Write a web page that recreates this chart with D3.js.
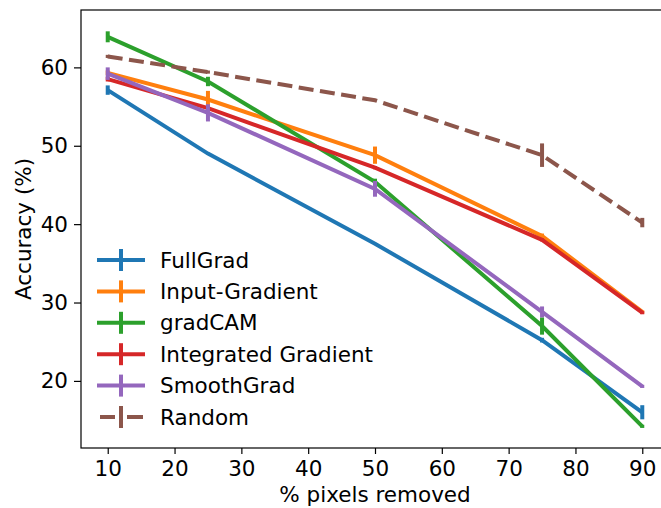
<!DOCTYPE html>
<html>
<head>
<meta charset="utf-8">
<script src="https://cdn.jsdelivr.net/npm/d3@7"></script>
<style>
  body { margin: 0; background: #fff; }
  text { font-family: "DejaVu Sans", sans-serif; fill: #000; }
</style>
</head>
<body>
<div id="chart"></div>
<script>
(function(){

// data
var pixelsRemoved = [10, 25, 50, 75, 90];
var methods = ["FullGrad", "Input-Gradient", "gradCAM", "Integrated Gradient", "SmoothGrad", "Random"];
var colors = ["#1f77b4", "#ff7f0e", "#2ca02c", "#d62728", "#9467bd", "#8c564b"];

var fullGrad       = [57.1, 49.0, 37.5, 25.2, 16.0];
var inputGradient  = [59.3, 55.9, 48.8, 38.5, 28.8];
var gradCAM        = [63.9, 58.2, 45.4, 27.0, 14.2];
var integratedGrad = [58.5, 54.8, 47.2, 38.0, 28.7];
var smoothGrad     = [59.2, 54.2, 44.5, 28.8, 19.3];
var randomBase     = [61.4, 59.4, 55.8, 48.8, 40.2];

var fullGradErr       = [0.6, 0.1, 0.1, 0.3, 0.9];
var inputGradientErr  = [0.3, 1.1, 1.1, 0.3, 0.2];
var gradCAMErr        = [0.7, 0.6, 0.4, 1.1, 0.2];
var integratedGradErr = [0.3, 0.3, 0.2, 0.2, 0.2];
var smoothGradErr     = [0.8, 1.1, 1.0, 0.7, 0.2];
var randomErr         = [0.2, 0.2, 0.1, 1.5, 0.6];

var xTicks = [10, 20, 30, 40, 50, 60, 70, 80, 90];
var yTicks = [20, 30, 40, 50, 60];

var values = [fullGrad, inputGradient, gradCAM, integratedGrad, smoothGrad, randomBase];
var errors = [fullGradErr, inputGradientErr, gradCAMErr, integratedGradErr, smoothGradErr, randomErr];

var series = methods.map(function(m, i) {
  return {
    name: m,
    color: colors[i],
    dashed: m == "Random",
    points: pixelsRemoved.map(function(p, j) {
      return {x: p, y: values[i][j], e: errors[i][j]};
    })
  };
});

var W = 661, H = 508;
var margin = {top: 10, right: -8, bottom: 60, left: 81},
    width = W - margin.left - margin.right,
    height = H - margin.top - margin.bottom;
var fs = "21.5px";

var svg = d3.select("#chart")
  .append("svg")
    .attr("width", W)
    .attr("height", H)
  .append("g")
    .attr("transform", "translate(" + margin.left + "," + margin.top + ")");

var x = d3.scaleLinear().domain([6, 94]).range([0, width]);
var y = d3.scaleLinear().domain([11.44, 67.32]).range([height, 0]);

// spines
svg.append("rect")
  .attr("x", 0).attr("y", 0)
  .attr("width", width).attr("height", height)
  .attr("fill", "none")
  .attr("stroke", "#000")
  .attr("stroke-width", 1.2);

var xAxis = svg.append("g")
  .attr("transform", "translate(0," + height + ")")
  .call(d3.axisBottom(x).tickValues(xTicks).tickSize(6).tickPadding(7));
var yAxis = svg.append("g")
  .call(d3.axisLeft(y).tickValues(yTicks).tickSize(7).tickPadding(6));

[xAxis, yAxis].forEach(function(a) {
  a.select(".domain").remove();
  a.selectAll(".tick line").attr("stroke", "#000").attr("stroke-width", 1.2);
  a.selectAll(".tick text").attr("font-size", fs).attr("font-family", "DejaVu Sans");
});

svg.append("text")
  .attr("x", x(50)).attr("y", height + 54)
  .attr("text-anchor", "middle")
  .attr("font-size", fs)
  .text("% pixels removed");

svg.append("text")
  .attr("transform", "translate(-50," + (height / 2) + ") rotate(-90)")
  .attr("text-anchor", "middle")
  .attr("font-size", fs)
  .text("Accuracy (%)");

var plot = svg.append("g");

var line = d3.line()
  .x(function(d) { return x(d.x); })
  .y(function(d) { return y(d.y); });

series.forEach(function(s) {
  var g = plot.append("g");
  g.append("path")
    .datum(s.points)
    .attr("d", line)
    .attr("fill", "none")
    .attr("stroke", s.color)
    .attr("stroke-width", 4)
    .attr("stroke-dasharray", s.dashed ? "15,6.5" : null);
  g.selectAll("line.err")
    .data(s.points).enter()
    .append("line")
      .attr("class", "err")
      .attr("x1", function(d) { return x(d.x); })
      .attr("x2", function(d) { return x(d.x); })
      .attr("y1", function(d) { return y(d.y - d.e); })
      .attr("y2", function(d) { return y(d.y + d.e); })
      .attr("stroke", s.color)
      .attr("stroke-width", 4);
});

// legend
var legend = svg.append("g").attr("transform", "translate(16,250)");
var rowH = 31.4;
series.forEach(function(s, i) {
  var r = legend.append("g").attr("transform", "translate(0," + (i * rowH) + ")");
  r.append("line")
    .attr("x1", s.dashed ? 3 : 0).attr("x2", s.dashed ? 46 : 48)
    .attr("y1", 0).attr("y2", 0)
    .attr("stroke", s.color).attr("stroke-width", 4)
    .attr("stroke-dasharray", s.dashed ? "15,12,16" : null);
  r.append("line")
    .attr("x1", 24).attr("x2", 24).attr("y1", -11).attr("y2", 11)
    .attr("stroke", s.color).attr("stroke-width", 4);
  r.append("text")
    .attr("x", 63).attr("y", 0)
    .attr("dy", "0.35em")
    .attr("font-size", fs)
    .text(s.name);
});

})();
</script>
</body>
</html>
